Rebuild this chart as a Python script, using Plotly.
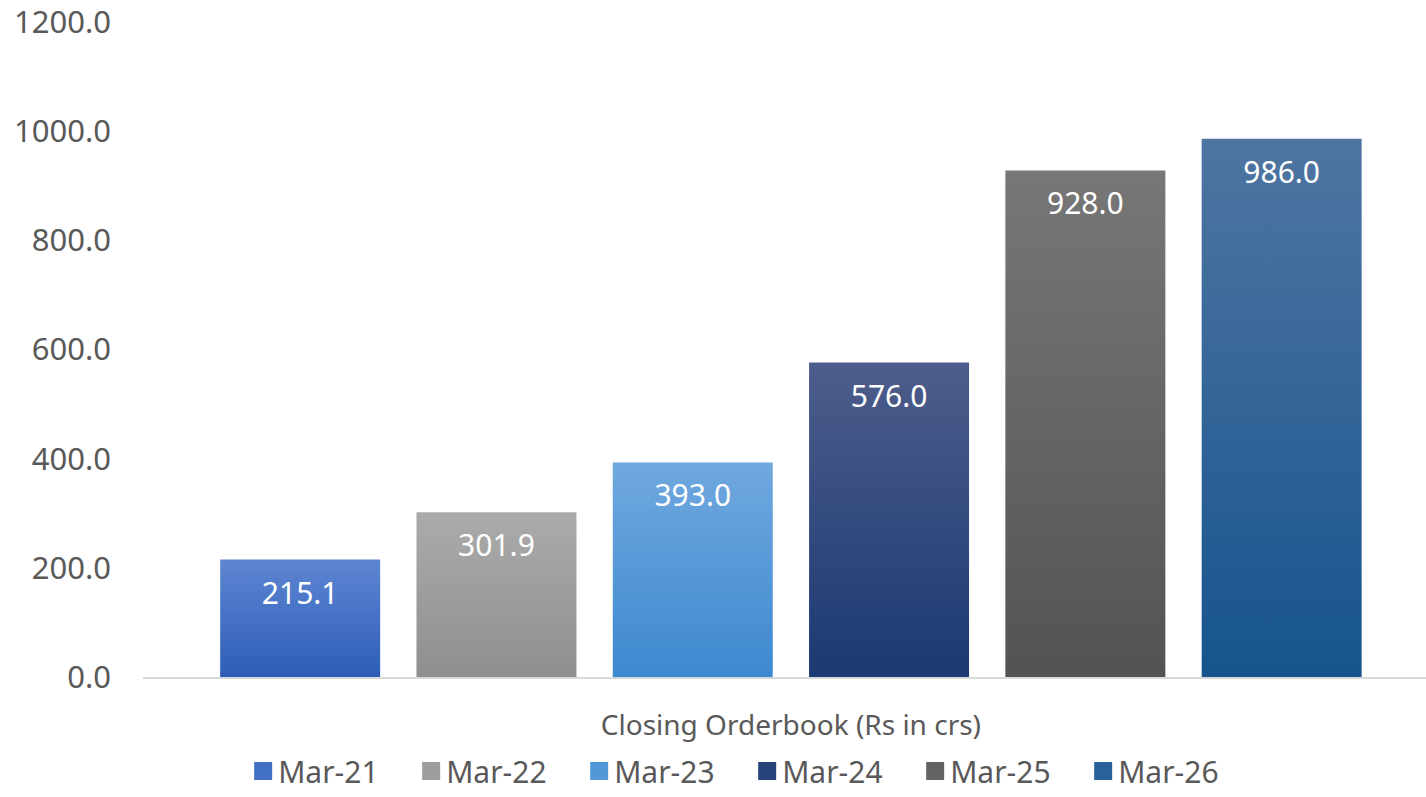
import plotly.graph_objects as go

# data
category = ["Closing Orderbook (Rs in crs)"]
periods = ["Mar-21", "Mar-22", "Mar-23", "Mar-24", "Mar-25", "Mar-26"]
orderbook = [215.1, 301.9, 393.0, 576.0, 928.0, 986.0]

# colours: (top, bottom) of each bar's gradient, plus a mid tone for the legend
top_cols = ["#5d86d2", "#ababab", "#70a8df", "#4d5d8b", "#777777", "#4f75a1"]
bot_cols = ["#2d5db8", "#8f8f8f", "#3d89cf", "#1b3972", "#535353", "#16548e"]
mid_cols = ["#406fc4", "#9d9d9d", "#5298d7", "#27437b", "#636363", "#2a6198"]

font_family = "Noto Sans"
grey = "#595959"

fig = go.Figure()
for i, p in enumerate(periods):
    fig.add_trace(go.Bar(
        x=category,
        y=[orderbook[i]],
        name=p,
        marker=dict(color=mid_cols[i], line=dict(width=0)),
        # tiny blank first line pushes the label a little below the bar top
        text=[f"<span style='font-size:2px'> </span><br>{orderbook[i]:.1f}"],
        textposition="inside",
        insidetextanchor="end",
        textangle=0,
        textfont=dict(color="white", size=30, family=font_family),
        cliponaxis=False,
    ))

fig.update_layout(
    width=1426, height=797,
    margin=dict(l=143, r=0, t=22, b=120, autoexpand=False),
    paper_bgcolor="white", plot_bgcolor="white",
    barmode="group",
    bargap=0.082,
    bargroupgap=0.185,
    font=dict(family=font_family, color=grey, size=28),
    showlegend=True,
    legend=dict(
        orientation="h", x=0.467, xanchor="center", y=-0.1832, yanchor="bottom",
        font=dict(size=30, color=grey), entrywidth=123,
        traceorder="normal",
    ),
    uniformtext=dict(mode=False),
)
fig.update_yaxes(
    range=[0, 1200], dtick=200, tickformat=".1f",
    showgrid=False, zeroline=False, showline=False, automargin=False,
    tickfont=dict(size=31, color=grey), ticklabelstandoff=31,
    ticklabeloverflow="allow",
)
fig.update_xaxes(
    range=[-0.505, 0.495],
    showline=True, linecolor="#d9d9d9", linewidth=2, automargin=False,
    showgrid=False, tickfont=dict(size=28, color=grey),
    ticklabelstandoff=22, ticks="", ticklabeloverflow="allow",
)

# vertical gradients on the bars, built from the colour lists above
stops_js = "[" + ",".join(f"['{t}','{b}']" for t, b in zip(top_cols, bot_cols)) + "]"
post = """
document.body.style.margin = '0';
var gd = document.getElementById('{plot_id}');
var cols = %s;
function paint() {
  var svg = gd.querySelector('svg.main-svg');
  var ns = 'http://www.w3.org/2000/svg';
  var defs = svg.querySelector('defs');
  cols.forEach(function(c, i) {
    var id = 'bargrad' + i;
    if (!document.getElementById(id)) {
      var g = document.createElementNS(ns, 'linearGradient');
      g.setAttribute('id', id);
      g.setAttribute('x1', '0'); g.setAttribute('y1', '0');
      g.setAttribute('x2', '0'); g.setAttribute('y2', '1');
      [[0, c[0]], [1, c[1]]].forEach(function(s) {
        var st = document.createElementNS(ns, 'stop');
        st.setAttribute('offset', s[0]);
        st.setAttribute('stop-color', s[1]);
        g.appendChild(st);
      });
      defs.appendChild(g);
    }
  });
  var traces = gd.querySelectorAll('.barlayer .trace');
  traces.forEach(function(t, i) {
    t.querySelectorAll('path').forEach(function(p) {
      p.style.fill = 'url(#bargrad' + i + ')';
    });
  });
  // larger legend swatches, set closer to their text
  gd.querySelectorAll('.legend .legendpoints path').forEach(function(p) {
    p.setAttribute('transform', 'translate(25,0) scale(1.5)');
  });
}
paint();
gd.on('plotly_afterplot', paint);
""" % stops_js

fig.write_html("out.html", post_script=post, config={"displayModeBar": False})
